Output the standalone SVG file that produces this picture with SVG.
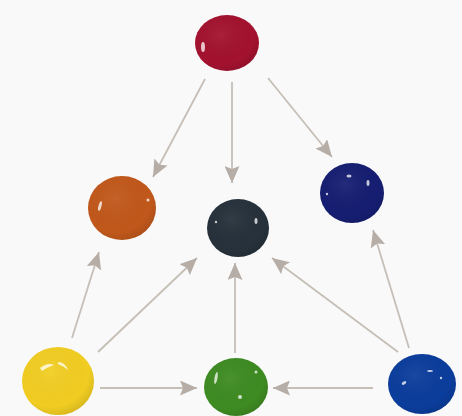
<svg xmlns="http://www.w3.org/2000/svg" width="462" height="416" viewBox="0 0 462 416">
<style>
.c{stroke:#c6bfb8;stroke-width:1.8;fill:none;marker-end:url(#ah)}
.hl{fill:#fff;opacity:0.75}
</style>
<defs>
<marker id="ah" markerUnits="userSpaceOnUse" markerWidth="17" markerHeight="15" refX="17" refY="7.5" orient="auto">
<path d="M0,0 L17,7.5 L0,15 L3,7.5 z" fill="#b5ada6"/>
</marker>
<radialGradient id="shade" cx="0.4" cy="0.35" r="0.7">
<stop offset="0" stop-color="#fff" stop-opacity="0.06"/>
<stop offset="0.75" stop-color="#000" stop-opacity="0"/>
<stop offset="1" stop-color="#000" stop-opacity="0.12"/>
</radialGradient>
</defs>
<rect width="462" height="416" fill="#f9f9f9"/>
<g id="connectors">
<line class="c" x1="205" y1="79" x2="153" y2="177"/>
<line class="c" x1="232" y1="82" x2="232" y2="183"/>
<line class="c" x1="268" y1="78" x2="332" y2="157"/>
<line class="c" x1="72" y1="338" x2="99" y2="252"/>
<line class="c" x1="98" y1="352" x2="197" y2="258"/>
<line class="c" x1="235" y1="353" x2="235" y2="263"/>
<line class="c" x1="398" y1="352" x2="272" y2="258"/>
<line class="c" x1="409" y1="348" x2="373" y2="230"/>
<line class="c" x1="100" y1="388" x2="197" y2="388"/>
<line class="c" x1="373" y1="388" x2="273" y2="388"/>
</g>
<g id="red">
<ellipse cx="227" cy="43" rx="32" ry="28" fill="#a3122f"/>
<ellipse cx="227" cy="43" rx="32" ry="28" fill="url(#shade)"/>
<ellipse class="hl" cx="203" cy="47" rx="2" ry="5"/>
</g>
<g id="orange">
<ellipse cx="122" cy="208" rx="34" ry="32" fill="#c1581b"/>
<ellipse cx="122" cy="208" rx="34" ry="32" fill="url(#shade)"/>
<ellipse class="hl" cx="100" cy="206" rx="1.5" ry="5" transform="rotate(15 100 206)"/>
<circle class="hl" cx="148" cy="200" r="1.5"/>
</g>
<g id="black">
<ellipse cx="238" cy="228" rx="31" ry="29" fill="#26313b"/>
<ellipse cx="238" cy="228" rx="31" ry="29" fill="url(#shade)"/>
<ellipse class="hl" cx="256" cy="221" rx="1.5" ry="3"/>
<circle class="hl" cx="216" cy="222" r="1.2"/>
</g>
<g id="navy">
<ellipse cx="352" cy="193" rx="32" ry="30" fill="#161e72"/>
<ellipse cx="352" cy="193" rx="32" ry="30" fill="url(#shade)"/>
<ellipse class="hl" cx="349" cy="176" rx="2.5" ry="1.5"/>
<ellipse class="hl" cx="368" cy="183" rx="1.5" ry="3"/>
<circle class="hl" cx="327" cy="194" r="1.2"/>
</g>
<g id="yellow">
<ellipse cx="58" cy="381" rx="36" ry="34" fill="#f1cd22"/>
<ellipse cx="58" cy="381" rx="36" ry="34" fill="url(#shade)"/>
<path class="hl" d="M40,368 Q48,362 54,365 Q48,367 42,371 z"/>
<path class="hl" d="M58,362 Q65,362 68,370 Q63,366 58,364 z"/>
</g>
<g id="green">
<ellipse cx="236" cy="387" rx="32" ry="29" fill="#3e8b22"/>
<ellipse cx="236" cy="387" rx="32" ry="29" fill="url(#shade)"/>
<ellipse class="hl" cx="216" cy="378" rx="1.5" ry="6" transform="rotate(10 216 378)"/>
<circle class="hl" cx="240" cy="397" r="2"/>
<circle class="hl" cx="256" cy="372" r="1.5"/>
</g>
<g id="blue">
<ellipse cx="422" cy="384" rx="34" ry="30" fill="#0b3d9c"/>
<ellipse cx="422" cy="384" rx="34" ry="30" fill="url(#shade)"/>
<ellipse class="hl" cx="404" cy="383" rx="2.5" ry="1.5" transform="rotate(-30 404 383)"/>
<ellipse class="hl" cx="430" cy="371" rx="3" ry="1"/>
<circle class="hl" cx="441" cy="378" r="1.2"/>
</g>
</svg>
